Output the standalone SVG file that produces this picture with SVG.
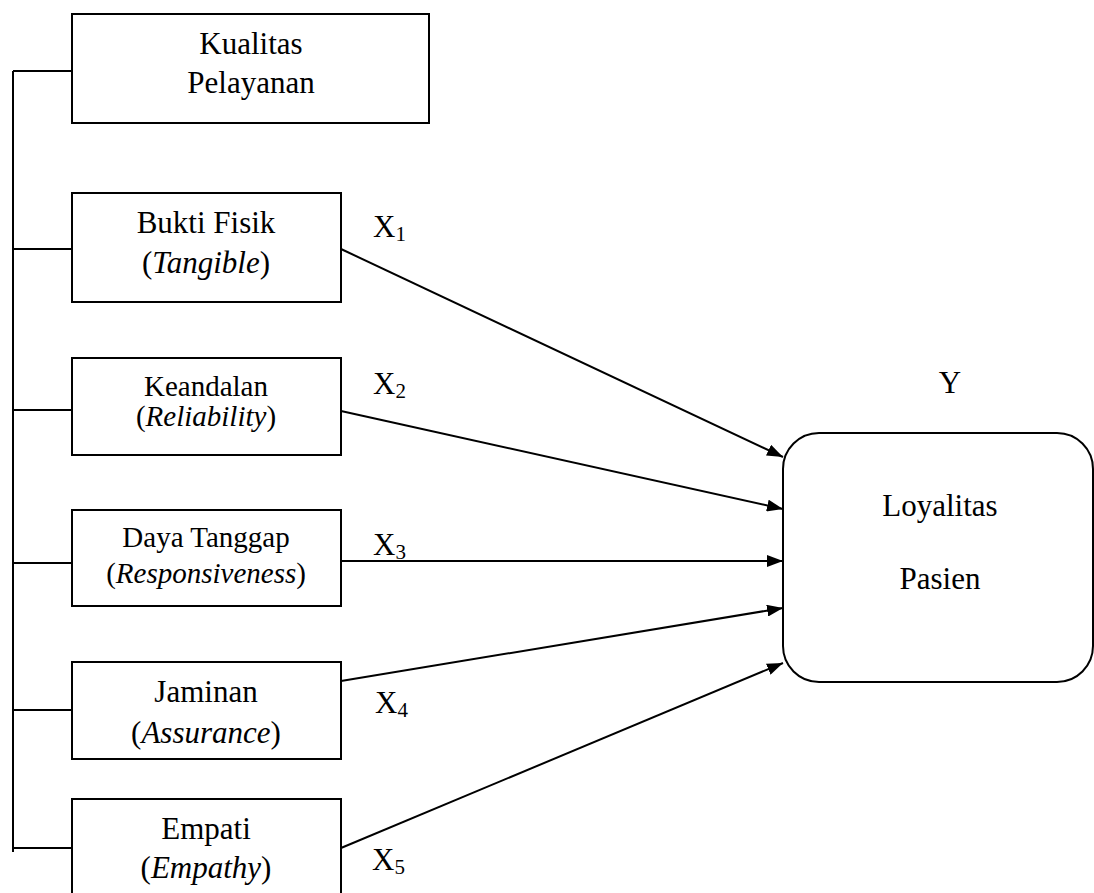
<svg xmlns="http://www.w3.org/2000/svg" width="1094" height="893" viewBox="0 0 1094 893">
<style>
.box{fill:#fff;stroke:#000;stroke-width:2}
.ln{fill:none;stroke:#000;stroke-width:2}
text{font-family:'Liberation Serif','Times New Roman',serif;fill:#000}
.t{text-anchor:middle}
.s31{font-size:31px}
.s29{font-size:29px}
.lab{font-size:31px}
.sub{font-size:21px}
.it{font-style:italic}
</style>
<defs>
<marker id="ah" markerWidth="16" markerHeight="12" refX="16" refY="6" orient="auto" markerUnits="userSpaceOnUse">
<path d="M0,0 L16,6 L0,12 Z" fill="#000"/>
</marker>
</defs>
<rect width="1094" height="893" fill="#fff"/>
<g id="connectors">
<path class="ln" d="M13,71 V852 M13,71 H72 M13,249 H72 M13,410 H75 M13,563 H72 M13,710 H72 M12,848 H72"/>
<line class="ln" x1="341" y1="249" x2="783" y2="457" marker-end="url(#ah)"/>
<line class="ln" x1="341" y1="411" x2="783" y2="509" marker-end="url(#ah)"/>
<line class="ln" x1="341" y1="561" x2="783" y2="561" marker-end="url(#ah)"/>
<line class="ln" x1="341" y1="681" x2="783" y2="608" marker-end="url(#ah)"/>
<line class="ln" x1="341" y1="848" x2="783" y2="663" marker-end="url(#ah)"/>
<text class="lab" x="373" y="237">X<tspan class="sub" dy="4">1</tspan></text>
<text class="lab" x="373" y="394">X<tspan class="sub" dy="4">2</tspan></text>
<text class="lab" x="373" y="555">X<tspan class="sub" dy="4">3</tspan></text>
<text class="lab" x="375" y="713">X<tspan class="sub" dy="4">4</tspan></text>
<text class="lab" x="372" y="870">X<tspan class="sub" dy="4">5</tspan></text>
</g>
<g id="kualitas">
<rect class="box" x="72" y="14" width="357" height="109"/>
<text class="t s31" x="251" y="54">Kualitas</text>
<text class="t s31" x="251" y="93">Pelayanan</text>
</g>
<g id="tangible">
<rect class="box" x="72" y="193" width="269" height="109"/>
<text class="t s31" x="206" y="233">Bukti Fisik</text>
<text class="t s31" x="206" y="273">(<tspan class="it">Tangible</tspan>)</text>
</g>
<g id="reliability">
<rect class="box" x="72" y="358" width="269" height="97"/>
<text class="t s29" x="206" y="396">Keandalan</text>
<text class="t s29" x="206" y="426">(<tspan class="it">Reliability</tspan>)</text>
</g>
<g id="responsiveness">
<rect class="box" x="72" y="510" width="269" height="96"/>
<text class="t s29" x="206" y="547">Daya Tanggap</text>
<text class="t s29" x="206" y="583">(<tspan class="it">Responsiveness</tspan>)</text>
</g>
<g id="assurance">
<rect class="box" x="72" y="662" width="269" height="97"/>
<text class="t s31" x="206" y="702">Jaminan</text>
<text class="t s31" x="206" y="743">(<tspan class="it">Assurance</tspan>)</text>
</g>
<g id="empathy">
<rect class="box" x="72" y="799" width="269" height="110"/>
<text class="t s31" x="206" y="839">Empati</text>
<text class="t s31" x="206" y="878">(<tspan class="it">Empathy</tspan>)</text>
</g>
<g id="loyalitas">
<rect class="box" x="783" y="433" width="310" height="249" rx="36" ry="36"/>
<text class="t s31" x="950" y="393">Y</text>
<text class="t s31" x="940" y="516">Loyalitas</text>
<text class="t s31" x="940" y="589">Pasien</text>
</g>
</svg>
